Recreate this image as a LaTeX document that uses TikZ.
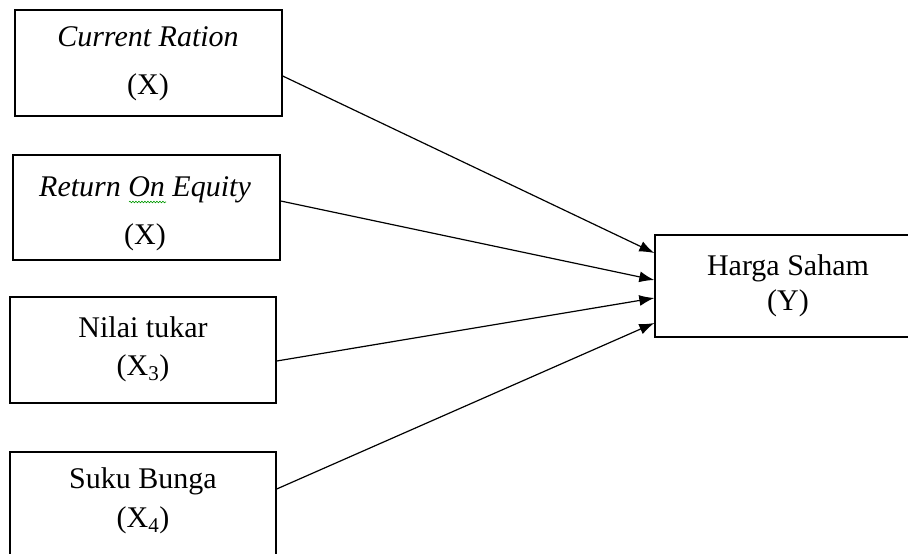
\documentclass[tikz,border=0pt]{standalone}
\usepackage{fontspec}
\setmainfont{Liberation Serif}
\usetikzlibrary{arrows.meta,decorations.pathmorphing}

\tikzset{
	varbox/.style={draw, line width=1.4pt, inner sep=0pt, minimum width=266pt},
	vartext/.style={align=center, inner sep=0pt, font=\fontsize{30}{35}\selectfont},
	link/.style={-{Latex[length=15pt,width=11pt]}, line width=1.2pt}
}

\begin{document}
\begin{tikzpicture}[x=1pt,y=-1pt]
\useasboundingbox (0,0) rectangle (908,554);
\clip (0,0) rectangle (908,554);

% independent variables
\node[varbox, minimum width=267pt, minimum height=106pt] (cr) at (148.5,63) {};
\node[vartext] (crT) at (148,64) {\textit{Current Ration}\\[13pt](X)};

\node[varbox, minimum width=267pt, minimum height=105pt] (roe) at (146.5,207.5) {};
\node[vartext] (roeT) at (145,214) {\textit{Return On Equity}\\[13pt](X)};
\draw[green!60!black, line width=0.6pt, decorate, decoration={snake, amplitude=0.8pt, segment length=3pt}] (129,202) -- (166,202);

\node[varbox, minimum height=106pt] (nt) at (143,350) {};
\node[vartext] (ntT) at (143,349) {Nilai tukar\\[3pt](X\textsubscript{3})};

\node[varbox, minimum height=106pt] (sb) at (143,505) {};
\node[vartext] (sbT) at (143,500.5) {Suku Bunga\\[4pt](X\textsubscript{4})};

% dependent variable
\node[varbox, minimum width=260pt, minimum height=102pt] (hs) at (785,286) {};
\node[vartext] (hsT) at (788,285.5) {Harga Saham\\(Y)};

\draw[link] ([yshift=-13pt]cr.east) -- ([yshift=33pt]hs.west);
\draw[link] ([yshift=6.5pt]roe.east) -- ([yshift=6pt]hs.west);
\draw[link] ([yshift=-11pt]nt.east) -- ([yshift=-12pt]hs.west);
\draw[link] ([yshift=16pt]sb.east) -- ([yshift=-37pt]hs.west);
\end{tikzpicture}
\end{document}
